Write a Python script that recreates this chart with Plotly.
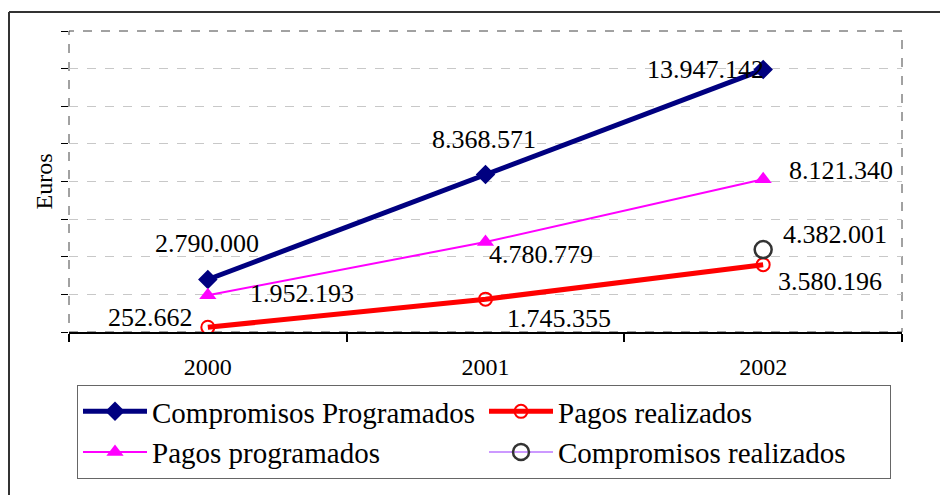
import plotly.graph_objects as go

years = ["2000", "2001", "2002"]
compromisos_programados = [2790000, 8368571, 13947142]
pagos_realizados = [252662, 1745355, 3580196]
pagos_programados = [1952193, 4780779, 8121340]
compromisos_realizados_years = ["2002"]
compromisos_realizados = [4382001]
y_ticks = [0, 2000000, 4000000, 6000000, 8000000, 10000000, 12000000, 14000000, 16000000]

FONT = "Liberation Serif, Times New Roman, serif"

def fmt(v):
    return f"{v:,}".replace(",", ".")

fig = go.Figure()
fig.add_trace(go.Scatter(x=years, y=compromisos_programados, name="Compromisos Programados",
                         mode="lines+markers", line=dict(color="#000080", width=5),
                         marker=dict(symbol="diamond", size=15, color="#000080")))
fig.add_trace(go.Scatter(x=years, y=pagos_realizados, name="Pagos realizados",
                         mode="lines+markers", line=dict(color="#FF0000", width=5),
                         marker=dict(symbol="circle-open", size=13, color="#FF0000", line=dict(width=2))))
fig.add_trace(go.Scatter(x=years, y=pagos_programados, name="Pagos programados",
                         mode="lines+markers", line=dict(color="#FF00FF", width=2),
                         marker=dict(symbol="triangle-up", size=15, color="#FF00FF")))
fig.add_trace(go.Scatter(x=compromisos_realizados_years, y=compromisos_realizados, name="Compromisos realizados",
                         mode="lines+markers", line=dict(color="#CC99FF", width=2),
                         marker=dict(symbol="circle-open", size=17, color="#333333", line=dict(width=2.5))))

# label placement styles: (xanchor, xshift, yshift)
label_styles = {
    "cp": [("center", -1, 36), ("center", -2, 35), ("right", 3, 0)],
    "pp": [("left", 40, 2), ("left", 1, -12), ("left", 24, 9)],
    "pr": [("right", -13, 10), ("left", 19, -19), ("left", 13, -17)],
    "cr": [("left", 18, 15)],
}
series = [
    ("cp", years, compromisos_programados),
    ("pp", years, pagos_programados),
    ("pr", years, pagos_realizados),
    ("cr", compromisos_realizados_years, compromisos_realizados),
]
for key, xs, ys in series:
    for (xa, dx, dy), xv, yv in zip(label_styles[key], xs, ys):
        fig.add_annotation(x=years.index(xv), y=yv, xref="x", yref="y", text=fmt(yv), showarrow=False,
                           xanchor=xa, yanchor="middle", xshift=dx, yshift=dy,
                           font=dict(family=FONT, size=26, color="black"))

W, H = 940, 495
L, R, T, B = 69, 38, 31, 163
pw, ph = W - L - R, H - T - B
def px(xp):
    return (xp - L) / pw
def py(yp):
    return (H - B - yp) / ph

# plot area dashed border
fig.add_shape(type="rect", xref="paper", yref="paper", x0=0, y0=0, x1=1, y1=1,
              line=dict(color="#444444", width=1, dash="dash"), layer="below")
# outer frame (left and top)
fig.add_shape(type="line", xref="paper", yref="paper", x0=px(9), x1=px(945), y0=py(12), y1=py(12),
              line=dict(color="#333333", width=2))
fig.add_shape(type="line", xref="paper", yref="paper", x0=px(9), x1=px(9), y0=py(12), y1=py(500),
              line=dict(color="#333333", width=2))

fig.update_layout(
    width=W, height=H,
    margin=dict(l=L, r=R, t=T, b=B),
    paper_bgcolor="white", plot_bgcolor="white",
    font=dict(family=FONT, color="black"),
    showlegend=True,
    legend=dict(orientation="h", x=px(77), y=py(385), xanchor="left", yanchor="top",
                bordercolor="#666666", borderwidth=1, font=dict(family=FONT, size=29),
                entrywidth=327, entrywidthmode="pixels", itemwidth=64,
                tracegroupgap=0, traceorder="normal"),
    xaxis=dict(type="category", range=[-0.5, 2.5], tickson="boundaries", ticks="outside",
               ticklen=8, tickwidth=2, tickcolor="black", showline=True, linecolor="black",
               linewidth=2, showgrid=False, tickfont=dict(family=FONT, size=24), zeroline=False,
               ticklabelstandoff=12),
    yaxis=dict(range=[0, 16000000], tickvals=y_ticks, showticklabels=False, ticks="outside",
               ticklen=7, tickwidth=1, tickcolor="black", showline=False, showgrid=True,
               gridcolor="#C8C8C8", griddash="dash", gridwidth=1, zeroline=False,
               title=dict(text="Euros", font=dict(family=FONT, size=24), standoff=1)),
)

fig.write_html("out.html", config={"displayModeBar": False},
               post_script="document.body.style.margin='0';document.body.style.overflow='hidden';")
